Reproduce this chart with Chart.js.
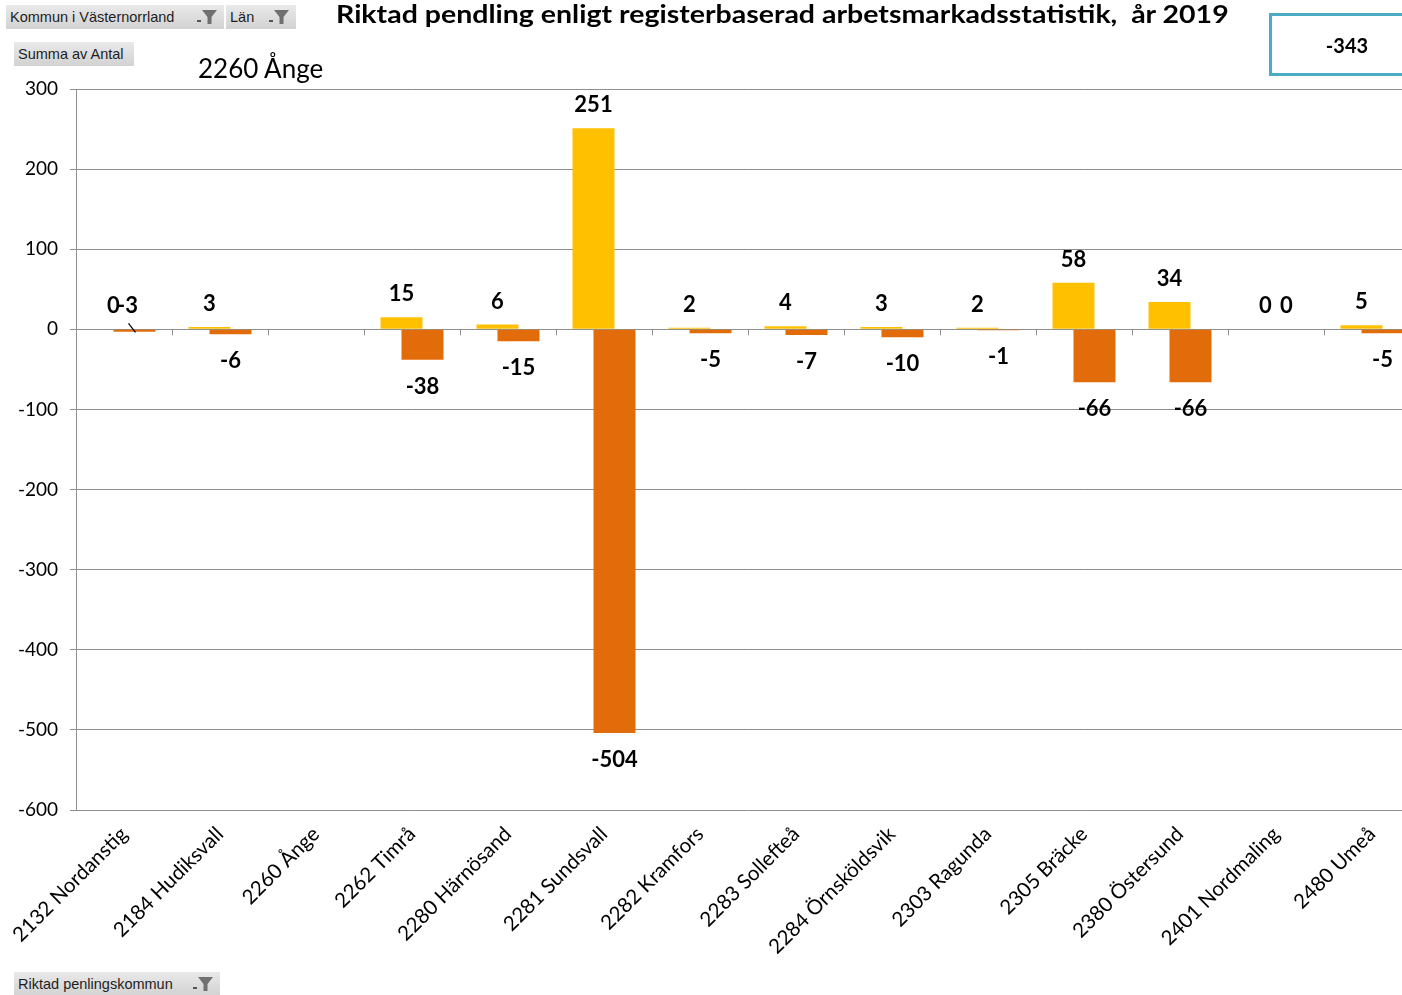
<!DOCTYPE html>
<html lang="sv">
<head>
<meta charset="utf-8">
<title>Riktad pendling</title>
<script src="https://cdn.jsdelivr.net/npm/chart.js@4.4.1/dist/chart.umd.min.js"></script>
<style>
    html, body {
        margin: 0;
        padding: 0;
        width: 1402px;
        height: 995px;
        overflow: hidden;
        background: #ffffff;
        font-family: Lato, "Noto Sans", sans-serif;
    }
    #chart-wrap {
        position: absolute;
        left: 0;
        top: 0;
        width: 1420px;
        height: 995px;
    }
    .pivot-btn {
        position: absolute;
        height: 24px;
        line-height: 24px;
        background: linear-gradient(#e9e9e9, #d2d2d2);
        color: #1e1e1e;
        font-family: "Liberation Sans", "DejaVu Sans", sans-serif;
        font-size: 14.5px;
        padding-left: 4px;
        box-sizing: border-box;
        white-space: nowrap;
    }
    .pivot-btn svg {
        position: absolute;
        right: 6px;
        top: 4px;
    }
    .title {
        position: absolute;
        left: 336px;
        top: -2px;
        font-weight: bold;
        font-size: 25px;
        color: #000;
        white-space: nowrap;
        transform: scaleX(1.14);
        transform-origin: left top;
    }
    .subtitle {
        position: absolute;
        left: 198px;
        top: 52px;
        font-size: 26px;
        color: #000;
        white-space: nowrap;
    }
    .total-box {
        position: absolute;
        left: 1269px;
        top: 13px;
        width: 150px;
        height: 63px;
        border: 3px solid #4bacc6;
        box-sizing: border-box;
        background: #fff;
    }
    .total-box span {
        position: absolute;
        left: 0;
        width: 150px;
        top: 17px;
        text-align: center;
        font-weight: bold;
        font-size: 20px;
        color: #000;
    }
</style>
</head>
<body>
<div id="chart-wrap"><canvas id="pendling-chart" width="1420" height="995"></canvas></div>

<div class="pivot-btn" style="left:6px; top:5px; width:218px;">Kommun i Västernorrland
    <svg width="22" height="16" viewBox="0 0 22 16"><rect x="1" y="11" width="4" height="2" fill="#555"/><polygon points="6,1 21,1 15.5,8 15.5,15 11.5,15 11.5,8" fill="#707070"/></svg>
</div>
<div class="pivot-btn" style="left:226px; top:5px; width:70px;">Län
    <svg width="22" height="16" viewBox="0 0 22 16"><rect x="1" y="11" width="4" height="2" fill="#555"/><polygon points="6,1 21,1 15.5,8 15.5,15 11.5,15 11.5,8" fill="#707070"/></svg>
</div>
<div class="pivot-btn" style="left:14px; top:42px; width:120px;">Summa av Antal</div>
<div class="pivot-btn" style="left:14px; top:972px; width:206px;">Riktad penlingskommun
    <svg width="22" height="16" viewBox="0 0 22 16"><rect x="1" y="11" width="4" height="2" fill="#555"/><polygon points="6,1 21,1 15.5,8 15.5,15 11.5,15 11.5,8" fill="#707070"/></svg>
</div>

<div class="title">Riktad pendling enligt registerbaserad arbetsmarkadsstatistik,&nbsp; år 2019</div>
<div class="subtitle">2260 Ånge</div>
<div class="total-box"><span>-343</span></div>

<script>
// Categories (kommuner)
const kommuner = [
    '2132 Nordanstig', '2184 Hudiksvall', '2260 Ånge', '2262 Timrå',
    '2280 Härnösand', '2281 Sundsvall', '2282 Kramfors', '2283 Sollefteå',
    '2284 Örnsköldsvik', '2303 Ragunda', '2305 Bräcke', '2380 Östersund',
    '2401 Nordmaling', '2480 Umeå'
];

// Inpendling (yellow) and utpendling (orange)
const inpendling = [0, 3, null, 15, 6, 251, 2, 4, 3, 2, 58, 34, 0, 5];
const utpendling = [-3, -6, null, -38, -15, -504, -5, -7, -10, -1, -66, -66, 0, -5];

// Y axis range
const yMin = -600;
const yMax = 300;
const yStep = 100;

const gridColor = '#8f8f8f';

// Label moved manually (leader line) like in the original
const labelNudge = { 1: { 0: { above: true, dx: -7 } } };

// Draws the data labels and the small ticks on the zero line
const labelPlugin = {
    id: 'barLabels',
    afterDatasetsDraw(chart) {
        const ctx = chart.ctx;
        const xScale = chart.scales.x;
        const yScale = chart.scales.y;
        const zeroY = yScale.getPixelForValue(0);

        // tick marks on the category axis at zero
        ctx.save();
        ctx.strokeStyle = gridColor;
        ctx.lineWidth = 1;
        for (let i = 1; i < kommuner.length; i++) {
            const x = Math.round((xScale.getPixelForValue(i - 1) + xScale.getPixelForValue(i)) / 2) + 0.5;
            ctx.beginPath();
            ctx.moveTo(x, zeroY);
            ctx.lineTo(x, zeroY + 6);
            ctx.stroke();
        }
        ctx.restore();

        ctx.save();
        ctx.font = 'bold 22px Lato, "Noto Sans", sans-serif';
        ctx.fillStyle = '#000';
        ctx.textAlign = 'center';
        ctx.textBaseline = 'middle';
        chart.data.datasets.forEach((ds, di) => {
            const meta = chart.getDatasetMeta(di);
            meta.data.forEach((bar, i) => {
                const v = ds.data[i];
                if (v === null || v === undefined) return;
                const nudge = (labelNudge[di] || {})[i];
                let x = bar.x;
                let y;
                if (v >= 0 || (nudge && nudge.above)) {
                    y = Math.min(bar.y, zeroY) - 23;
                } else {
                    y = bar.y + 27;
                }
                if (nudge) {
                    x += nudge.dx;
                    ctx.save();
                    ctx.strokeStyle = '#000';
                    ctx.lineWidth = 1.2;
                    ctx.beginPath();
                    ctx.moveTo(x + 1, y + 17);
                    ctx.lineTo(x + 8, y + 26);
                    ctx.stroke();
                    ctx.restore();
                }
                ctx.fillText(String(v), x, y);
            });
        });
        ctx.restore();
    }
};

function createChart() {
    const ctx = document.getElementById('pendling-chart').getContext('2d');

    new Chart(ctx, {
        type: 'bar',
        data: {
            labels: kommuner,
            datasets: [
                {
                    label: 'In',
                    data: inpendling,
                    backgroundColor: '#ffc000',
                    categoryPercentage: 0.4375,
                    barPercentage: 2.0
                },
                {
                    label: 'Ut',
                    data: utpendling,
                    backgroundColor: '#e36c0a',
                    categoryPercentage: 0.4375,
                    barPercentage: 2.0
                }
            ]
        },
        options: {
            responsive: false,
            animation: false,
            devicePixelRatio: 1,
            layout: {
                padding: { top: 89, left: 0, right: 0, bottom: 0 }
            },
            plugins: {
                legend: { display: false },
                title: { display: false },
                tooltip: { enabled: false }
            },
            scales: {
                x: {
                    grid: { display: false, drawTicks: false },
                    border: { display: false },
                    ticks: {
                        color: '#000',
                        font: { family: 'Lato, "Noto Sans", sans-serif', size: 20.5 },
                        minRotation: 45,
                        maxRotation: 45,
                        autoSkip: false,
                        padding: 12
                    },
                    afterFit(scale) {
                        scale.height = 185;
                        scale.paddingLeft = 0;
                        scale.paddingRight = 0;
                    }
                },
                y: {
                    min: yMin,
                    max: yMax,
                    grid: {
                        color: gridColor,
                        lineWidth: 1,
                        tickLength: 6
                    },
                    border: { display: true, color: gridColor, width: 1 },
                    ticks: {
                        stepSize: yStep,
                        color: '#000',
                        font: { family: 'Lato, "Noto Sans", sans-serif', size: 19 },
                        padding: 12
                    },
                    afterFit(scale) {
                        scale.width = 76;
                        scale.paddingTop = 0;
                        scale.paddingBottom = 0;
                    }
                }
            }
        },
        plugins: [labelPlugin]
    });
}

document.addEventListener('DOMContentLoaded', createChart);
</script>
</body>
</html>
